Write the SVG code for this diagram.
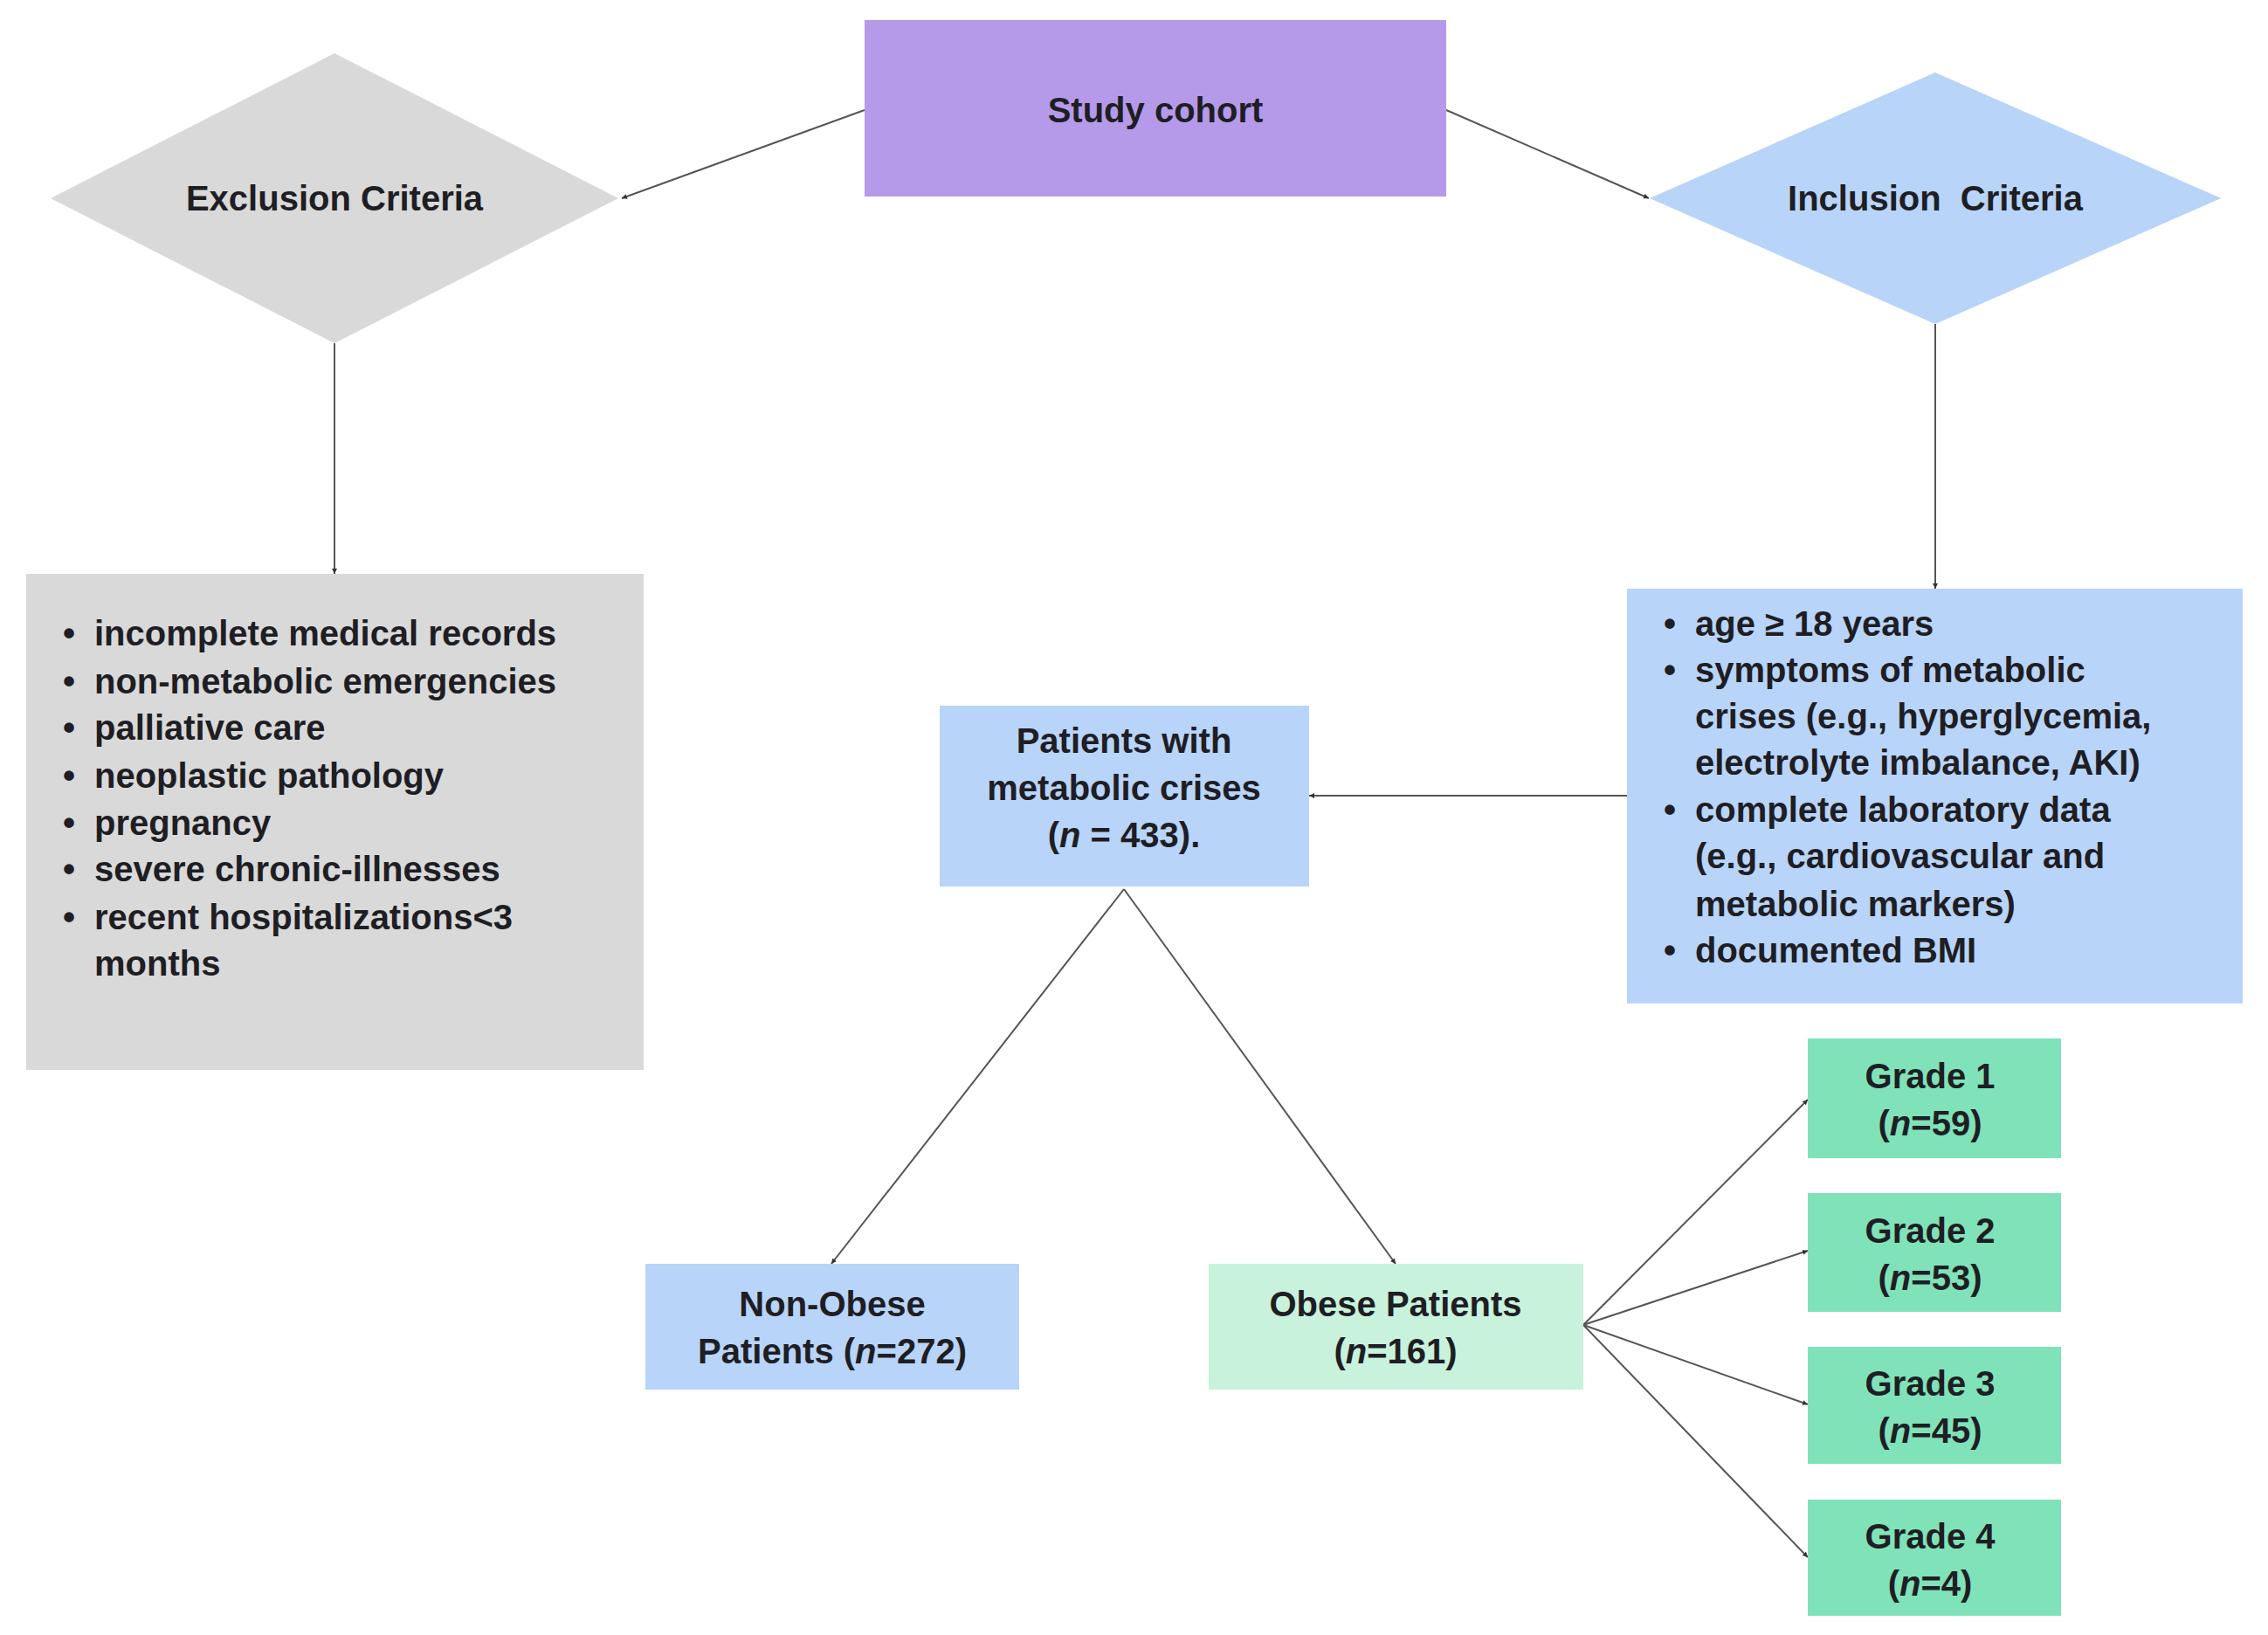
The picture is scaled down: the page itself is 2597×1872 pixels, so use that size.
<svg xmlns="http://www.w3.org/2000/svg" width="2597" height="1872" viewBox="0 0 2597 1872">
<style>
text{font-family:"Liberation Sans",Arial,sans-serif;font-weight:bold;fill:#1e1e24;font-size:40px}
.c{text-anchor:middle}
.ln{stroke:#555;stroke-width:2;fill:none;marker-end:url(#a)}
</style>
<defs><marker id="a" markerWidth="8" markerHeight="8" refX="6" refY="4" orient="auto" markerUnits="userSpaceOnUse"><path d="M0,1 L6,4 L0,7z" fill="#333"/></marker></defs>
<rect width="2597" height="1872" fill="#fff"/>
<g id="connectors">
<line class="ln" x1="990" y1="126" x2="712" y2="227"/>
<line class="ln" x1="1656" y1="126" x2="1888" y2="227"/>
<line class="ln" x1="383" y1="393" x2="383" y2="657"/>
<line class="ln" x1="2216" y1="371" x2="2216" y2="674"/>
<line class="ln" x1="1863" y1="911" x2="1499" y2="911"/>
<line class="ln" x1="1287" y1="1018" x2="952" y2="1447"/>
<line class="ln" x1="1287" y1="1018" x2="1598" y2="1447"/>
<line class="ln" x1="1813" y1="1517" x2="2070" y2="1259"/>
<line class="ln" x1="1813" y1="1517" x2="2070" y2="1432"/>
<line class="ln" x1="1813" y1="1517" x2="2070" y2="1608"/>
<line class="ln" x1="1813" y1="1517" x2="2070" y2="1783"/>
</g>
<g id="study"><rect x="990" y="23" width="666" height="202" fill="#b59ae9"/><text class="c" x="1323" y="140">Study cohort</text></g>
<g id="excl"><polygon points="58,227 383,61 708,227 383,393" fill="#d9d9d9"/><text class="c" x="383" y="241">Exclusion Criteria</text></g>
<g id="incl"><polygon points="1889,227 2216,83 2543,227 2216,371" fill="#b8d4f8"/><text class="c" x="2216" y="241" xml:space="preserve">Inclusion  Criteria</text></g>
<g id="exclbox"><rect x="30" y="657" width="707" height="568" fill="#d9d9d9"/>
<text x="72" y="739">•</text><text x="108" y="739">incomplete medical records</text>
<text x="72" y="794">•</text><text x="108" y="794">non-metabolic emergencies</text>
<text x="72" y="847">•</text><text x="108" y="847">palliative care</text>
<text x="72" y="902">•</text><text x="108" y="902">neoplastic pathology</text>
<text x="72" y="956">•</text><text x="108" y="956">pregnancy</text>
<text x="72" y="1009">•</text><text x="108" y="1009">severe chronic-illnesses</text>
<text x="72" y="1064">•</text><text x="108" y="1064">recent hospitalizations&lt;3</text>
<text x="108" y="1117">months</text></g>
<g id="inclbox"><rect x="1863" y="674" width="705" height="475" fill="#b8d4f8"/>
<text x="1905" y="728">•</text><text x="1941" y="728">age ≥ 18 years</text>
<text x="1905" y="781">•</text><text x="1941" y="781">symptoms of metabolic</text>
<text x="1941" y="834">crises (e.g., hyperglycemia,</text>
<text x="1941" y="887">electrolyte imbalance, AKI)</text>
<text x="1905" y="941">•</text><text x="1941" y="941">complete laboratory data</text>
<text x="1941" y="994">(e.g., cardiovascular and</text>
<text x="1941" y="1049">metabolic markers)</text>
<text x="1905" y="1102">•</text><text x="1941" y="1102">documented BMI</text></g>
<g id="patients"><rect x="1076" y="808" width="423" height="207" fill="#b8d4f8"/>
<text class="c" x="1287" y="862">Patients with</text><text class="c" x="1287" y="916">metabolic crises</text><text class="c" x="1287" y="970">(<tspan font-style="italic">n</tspan> = 433).</text></g>
<g id="nonobese"><rect x="739" y="1447" width="428" height="144" fill="#b8d4f8"/>
<text class="c" x="953" y="1507">Non-Obese</text><text class="c" x="953" y="1561">Patients (<tspan font-style="italic">n</tspan>=272)</text></g>
<g id="obese"><rect x="1384" y="1447" width="429" height="144" fill="#c8f2dc"/>
<text class="c" x="1598" y="1507">Obese Patients</text><text class="c" x="1598" y="1561">(<tspan font-style="italic">n</tspan>=161)</text></g>
<g id="g1"><rect x="2070" y="1189" width="290" height="137" fill="#80e2b8"/><text class="c" x="2210" y="1246">Grade 1</text><text class="c" x="2210" y="1300">(<tspan font-style="italic">n</tspan>=59)</text></g>
<g id="g2"><rect x="2070" y="1366" width="290" height="136" fill="#80e2b8"/><text class="c" x="2210" y="1423">Grade 2</text><text class="c" x="2210" y="1477">(<tspan font-style="italic">n</tspan>=53)</text></g>
<g id="g3"><rect x="2070" y="1542" width="290" height="134" fill="#80e2b8"/><text class="c" x="2210" y="1598">Grade 3</text><text class="c" x="2210" y="1652">(<tspan font-style="italic">n</tspan>=45)</text></g>
<g id="g4"><rect x="2070" y="1717" width="290" height="133" fill="#80e2b8"/><text class="c" x="2210" y="1773">Grade 4</text><text class="c" x="2210" y="1827">(<tspan font-style="italic">n</tspan>=4)</text></g>
</svg>
